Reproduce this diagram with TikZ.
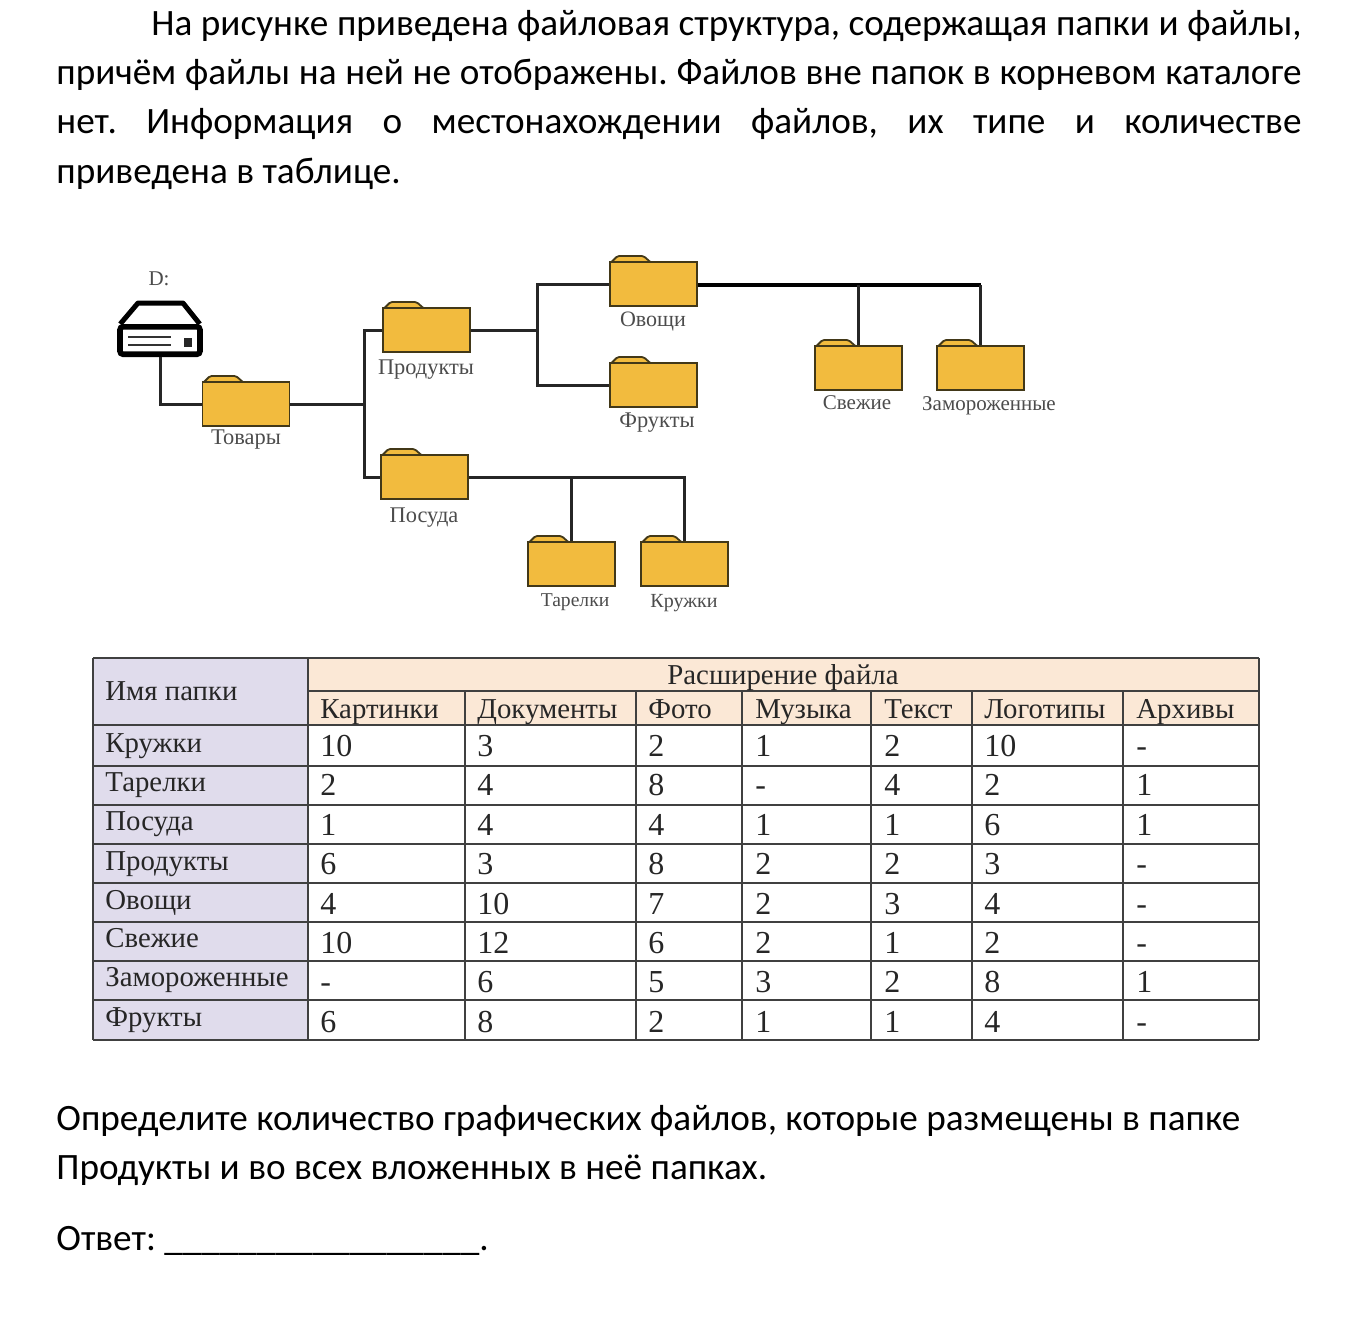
\documentclass[tikz,border=0pt]{standalone}
\usepackage{fontspec}
\setmainfont{Carlito}
\newfontfamily\tblfont{Liberation Serif}
\usepackage{xcolor}
\usetikzlibrary{positioning, calc}
\definecolor{foldercol}{RGB}{242,187,62}
\definecolor{folderline}{RGB}{66,56,24}
\definecolor{namecol}{RGB}{224,220,236}
\definecolor{headcol}{RGB}{251,232,214}
\definecolor{gridcol}{RGB}{64,64,64}
\definecolor{inkcol}{RGB}{38,38,38}
\begin{document}
\frenchspacing
\begin{tikzpicture}[
  x=0.5pt, y=-0.5pt,
  para/.style={anchor=north west, inner sep=0pt, text width=622.5pt, align=justify,
               font=\fontsize{18.6}{24.6}\selectfont, text=black},
  folder/.style={draw=folderline, fill=foldercol, line width=0.9pt, inner sep=0pt,
                 minimum width=43.5pt, minimum height=22pt},
  flbl/.style={font=\tblfont, text=black!70, inner sep=0pt},
  lnk/.style={draw=black!85, line width=1.5pt},
  headlbl/.style={anchor=base west, inner sep=0pt, text=inkcol, font=\tblfont\fontsize{14.4}{16}\selectfont},
  numlbl/.style={anchor=base west, inner sep=0pt, text=inkcol, font=\tblfont\fontsize{16}{18}\selectfont},
  tline/.style={draw=gridcol, line width=0.8pt}
]
  \useasboundingbox (0,0) rectangle (1351,1344);

  % top text
  \node[para] (intro) at (56,10)
    {\hspace*{47.5pt}На рисунке приведена файловая структура, содержащая папки и файлы,\linebreak
     причём файлы на ней не отображены. Файлов вне папок в корневом каталоге\linebreak
     нет. Информация о местонахождении файлов, их типе и количестве\linebreak
     приведена в таблице.};

  % drive
  \node[draw=black, fill=white, line width=2.8pt, rounded corners=1.5pt, inner sep=0pt,
        minimum width=40pt, minimum height=13.7pt] (drive) at (160,340.5) {};
  \draw[black, line width=2.5pt, line join=round]
    ($(drive.north west)+(3,0)$) -- (138,303) -- (183,303) -- ($(drive.north east)+(-3,0)$);
  \draw[black!80, line width=1.2pt] (128,337) -- (171,337) (128,345) -- (171,345);
  \fill[black!85] (184,338) rectangle (192,347);
  \node[flbl, font=\tblfont\fontsize{10.5}{12}\selectfont] (dlbl) at (159,279) {D:};

  % folders
  \foreach \nm/\x/\y/\lx/\ly/\sz/\txt in {
    tovary/246/404/246/440/11.2/Товары,
    produkty/426.5/330/426/370/11.2/Продукты,
    posuda/424.5/477/424/518/11.2/Посуда,
    ovoshchi/653.5/284/653/321/11/Овощи,
    frukty/653.5/385/657/423/11.2/Фрукты,
    svezhie/858.5/368/857/403/10.5/Свежие,
    zamorozh/980.5/368/989/406/10.5/Замороженные,
    tarelki/571.5/564/575/602/9.8/Тарелки,
    kruzhki/684.5/564/684/603/10/Кружки} {
    \fill[foldercol, draw=folderline, line width=0.9pt, line join=round, rounded corners=0.8pt]
      (\x-43,\y-21) -- (\x-36,\y-28) -- (\x-10,\y-28) -- (\x-2,\y-21) -- cycle;
    \node[folder] (\nm) at (\x,\y) {};
    \node[flbl] (\nm lbl) at (\lx,\ly) {\fontsize{\sz}{12}\selectfont\txt};
  }

  % connectors
  \coordinate (trunka) at (364,404);
  \coordinate (trunkb) at (537,330);
  \coordinate (ovend) at (980.5,285);
  \coordinate (posend) at (684.5,477);
  \draw[lnk] (drive.south) -- (drive.south |- tovary.west) -- (tovary.west);
  \draw[lnk] (tovary.east) -- (trunka);
  \draw[lnk] (produkty.west) -| (trunka) |- (posuda.west);
  \draw[lnk] (produkty.east) -- (trunkb);
  \draw[lnk] (ovoshchi.west) -| (trunkb) |- (frukty.west);
  \draw[draw=black, line width=2.3pt] (ovoshchi.east |- ovend) -- (ovend);
  \draw[lnk] (ovend) -- (zamorozh.north);
  \draw[lnk] (svezhie.north) -- (svezhie.north |- ovend);
  \draw[lnk] (posuda.east) -- (posend) -- (kruzhki.north);
  \draw[lnk] (tarelki.north) -- (tarelki.north |- posend);

  % table fills
  \fill[namecol] (93,658) rectangle (308,1040);
  \fill[headcol] (308,658) rectangle (1259,725);

  % table grid
  \foreach \y in {658,725,766,805,844,883,922,961,1000,1040}
    \draw[tline] (93,\y) -- (1259,\y);
  \draw[tline] (308,691) -- (1259,691);
  \foreach \x in {93,308,1259}
    \draw[tline] (\x,658) -- (\x,1040);
  \foreach \x in {465,636,742,871,972,1123}
    \draw[tline] (\x,691) -- (\x,1040);

  % table head
  \node[headlbl] (name) at (105,700) {Имя папки};
  \node[headlbl, anchor=base] (ext) at (783,684) {Расширение файла};
  \foreach \c/\x/\txt in {1/320/Картинки, 2/477/Документы, 3/648/Фото, 4/755/Музыка,
                          5/884/Текст, 6/984/Логотипы, 7/1136/Архивы}
    \node[headlbl] (h\c) at (\x,718) {\txt};

  % table rows
  \foreach \r/\ya/\yb/\txt/\vals in {
    1/752/756/Кружки/{10,3,2,1,2,10,-},
    2/791/795/Тарелки/{2,4,8,-,4,2,1},
    3/830/835/Посуда/{1,4,4,1,1,6,1},
    4/870/874/Продукты/{6,3,8,2,2,3,-},
    5/909/914/Овощи/{4,10,7,2,3,4,-},
    6/947/953/Свежие/{10,12,6,2,1,2,-},
    7/986/992/Замороженные/{-,6,5,3,2,8,1},
    8/1026/1032/Фрукты/{6,8,2,1,1,4,-}} {
    \node[headlbl] (r\r) at (105,\ya) {\txt};
    \foreach \v [count=\c] in \vals
      \node[numlbl] (r\r c\c) at (h\c.west |- 0,\yb) {\v};
  }

  % bottom text
  \node[para] (task) at (56,1105)
    {Определите количество графических файлов, которые размещены в папке\hfill\break
     Продукты и во всех вложенных в неё папках.};
  \node[para] (answer) at (56,1226)
    {Ответ: \_\_\_\_\_\_\_\_\_\_\_\_\_\_\_\_\_.};
\end{tikzpicture}
\end{document}
